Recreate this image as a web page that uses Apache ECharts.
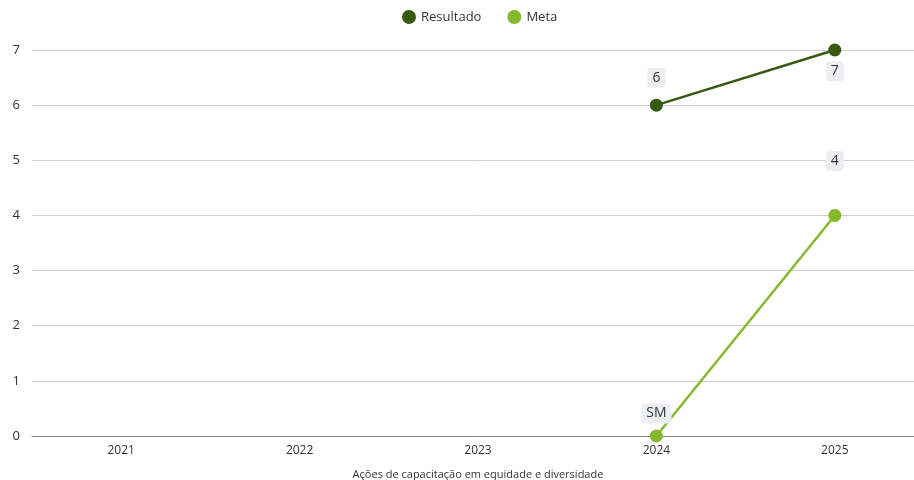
<!DOCTYPE html>
<html><head><meta charset="utf-8">
<script src="https://cdn.jsdelivr.net/npm/echarts@6/dist/echarts.min.js"></script>
<style>html,body{margin:0;padding:0;background:#fff}#c{width:914px;height:480px}</style>
</head><body><div id="c"></div>
<script>
var categories = ['2021','2022','2023','2024','2025'];
var resultado = [null, null, null, 6, 7];
var meta = [null, null, null, 0, 4];
var metaLabels = ['', '', '', 'SM', '4'];
var yTicks = [0,1,2,3,4,5,6,7];
var axisName = 'Ações de capacitação em equidade e diversidade';

var FONT = '"Open Sans", "Noto Sans", sans-serif';
var labelBase = {
  show: true, color: '#333', fontSize: 14, fontFamily: FONT,
  backgroundColor: '#eceef2', borderRadius: 4, padding: [3, 5]
};
var resLabelCfg = [null, null, null, {position:'top', distance: 11}, {position:'bottom', distance: 5}];
var metaLabelCfg = [null, null, null, {position:'top', distance: 6}, {position:'top', distance: 38}];

function build(values, cfgs, texts) {
  return values.map(function (v, i) {
    if (v === null) return null;
    var lab = Object.assign({}, labelBase, cfgs[i]);
    if (texts) { var t = texts[i]; lab.formatter = function () { return t; }; }
    return { value: v, label: lab };
  });
}

var chart = echarts.init(document.getElementById('c'));
chart.setOption({
  animation: false,
  textStyle: { fontFamily: FONT },
  legend: {
    top: 5, left: 397, itemGap: 26, itemWidth: 14, itemHeight: 14, icon: 'circle',
    textStyle: { color: '#333', fontSize: 13, fontFamily: FONT },
    data: ['Resultado', 'Meta']
  },
  grid: { left: 32, top: 50, width: 892, height: 386, containLabel: false, outerBoundsMode: 'none' },
  xAxis: {
    type: 'category', data: categories,
    name: axisName, nameLocation: 'middle', nameGap: 33,
    nameTextStyle: { color: '#333', fontSize: 11, fontFamily: FONT },
    axisLine: { lineStyle: { color: '#888' } },
    axisTick: { show: false },
    axisLabel: { color: '#333', fontSize: 12, margin: 9, fontFamily: FONT }
  },
  yAxis: {
    type: 'value', min: yTicks[0], max: yTicks[yTicks.length-1], interval: 1,
    axisLine: { show: false }, axisTick: { show: false },
    axisLabel: { color: '#333', fontSize: 13, margin: 12, fontFamily: FONT },
    splitLine: { lineStyle: { color: '#d0d0d0' } }
  },
  series: [
    { name: 'Resultado', type: 'line', data: build(resultado, resLabelCfg),
      symbol: 'circle', symbolSize: 13, color: '#385a10',
      lineStyle: { width: 2.5, color: '#385a10' }, itemStyle: { color: '#385a10' } },
    { name: 'Meta', type: 'line', data: build(meta, metaLabelCfg, metaLabels),
      symbol: 'circle', symbolSize: 13, color: '#84b92c',
      lineStyle: { width: 2.5, color: '#84b92c' }, itemStyle: { color: '#84b92c' } }
  ]
});
</script></body></html>
